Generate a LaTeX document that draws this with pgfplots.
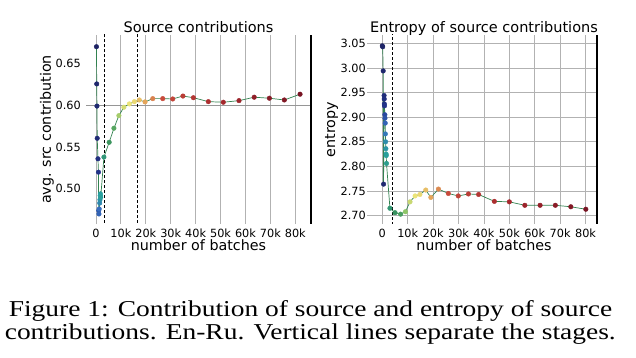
\documentclass[border=0pt]{standalone}
\usepackage{fontspec}
\setmainfont{DejaVu Sans}
\newfontfamily\capfont{Liberation Serif}
\usepackage{pgfplots}
\usepackage{pgfplotstable}
\pgfplotsset{compat=1.18}

\definecolor{gridgray}{RGB}{178,178,178}
\definecolor{refgray}{RGB}{150,150,150}
\definecolor{linegreen}{RGB}{50,130,80}

\pgfplotstableread{
x y c
200 0.670 0.00
300 0.6255 0.02
400 0.599 0.03
500 0.5605 0.04
800 0.536 0.06
1000 0.520 0.08
1100 0.474 0.16
1200 0.470 0.18
1300 0.476 0.20
1500 0.483 0.25
1600 0.487 0.27
1700 0.492 0.29
1800 0.494 0.30
1900 0.490 0.31
3200 0.538 0.36
5300 0.5557 0.41
7200 0.5725 0.45
9200 0.5876 0.54
11200 0.5976 0.58
13400 0.6016 0.60
15400 0.6043 0.62
17400 0.6063 0.66
19700 0.6040 0.70
22800 0.6079 0.74
26800 0.6079 0.80
30800 0.6075 0.82
34900 0.6110 0.84
39100 0.6090 0.86
45100 0.6043 0.88
51100 0.6036 0.90
57400 0.6055 0.92
63500 0.6096 0.95
69600 0.6084 0.97
75600 0.6063 0.98
81900 0.6132 1.00
}\srcdata

\pgfplotstableread{
x y c
0 3.045 0.00
150 3.043 0.01
350 2.994 0.02
500 2.764 0.03
700 2.944 0.05
750 2.937 0.06
800 2.927 0.07
850 2.923 0.08
1000 2.905 0.13
1050 2.898 0.15
1150 2.888 0.18
1200 2.866 0.22
1300 2.850 0.26
1400 2.836 0.28
1500 2.825 0.30
1550 2.822 0.31
1650 2.806 0.33
3000 2.715 0.37
5000 2.706 0.40
7200 2.703 0.43
9100 2.708 0.52
10900 2.728 0.57
12900 2.740 0.60
14800 2.743 0.62
17100 2.752 0.66
19100 2.737 0.70
22100 2.754 0.73
26000 2.745 0.80
29900 2.740 0.82
33900 2.744 0.84
37900 2.743 0.86
44100 2.729 0.88
50000 2.728 0.90
56100 2.721 0.92
62100 2.721 0.94
68100 2.721 0.96
74200 2.718 0.98
80100 2.713 1.00
}\entdata

\pgfplotsset{
 colormap={stagemap}{rgb255=(30,35,100) rgb255=(35,55,145) rgb255=(55,110,190) rgb255=(40,160,160) rgb255=(55,145,95) rgb255=(120,190,100) rgb255=(235,228,120) rgb255=(228,165,90) rgb255=(200,75,60) rgb255=(165,40,45) rgb255=(120,20,35)},
 common/.style={
  scale only axis, anchor=south west, height=189pt,
  axis line style={draw=none}, major tick length=0pt,
  grid style={gridgray, line width=0.8pt},
  colormap name=stagemap, point meta min=0, point meta max=1,
  xtick={0,10000,20000,30000,40000,50000,60000,70000,80000},
  xticklabels={0,10k,20k,30k,40k,50k,60k,70k,80k},
  scaled x ticks=false, scaled y ticks=false,
  tick label style={font=\fontsize{11.3}{13}\selectfont},
  /pgf/number format/assume math mode=true,
  label style={font=\fontsize{14.3}{16}\selectfont},
  title style={at={(0.5,1)}, anchor=base, yshift=-3.7pt, font=\fontsize{14.5}{16}\selectfont},
  xlabel style={at={(0.5,0)}, anchor=base, yshift=-26.7pt},
  xticklabel style={anchor=base, yshift=-13.7pt},
  yticklabel style={/pgf/number format/fixed, /pgf/number format/fixed zerofill,
    /pgf/number format/precision=2, anchor=east, inner sep=0pt, xshift=-5pt},
  xlabel={number of batches},
 },
 conn/.style={linegreen, line width=0.7pt, no marks},
 pts/.style={only marks, scatter, scatter src=explicit, mark=*, mark size=2.3pt,
   scatter/use mapped color={draw=mapped color, fill=mapped color}},
 stage/.style={black, line width=0.8pt, dash pattern=on 3pt off 2pt, no marks},
}

\begin{document}
\begin{tikzpicture}[x=1pt,y=1pt]
\path[use as bounding box] (0,0) rectangle (636,358);

\begin{axis}[common, name=ax1, at={(86pt,134pt)}, width=225pt,
  xmin=-4000, xmax=86300, ymin=0.458, ymax=0.684,
  xmajorgrids, ytick={0.50,0.55,0.60,0.65},
  title={Source contributions}, ylabel={avg. src contribution},
  ylabel style={at={(axis description cs:-0.1556,0.5)}, anchor=base}]
\addplot[refgray, line width=0.9pt, no marks] coordinates {(-4000,0.6) (86300,0.6)};
\addplot[stage] coordinates {(3500,0.40) (3500,0.70)};
\addplot[stage] coordinates {(16700,0.40) (16700,0.70)};
\addplot[conn] table[x=x,y=y] {\srcdata};
\addplot[pts] table[x=x,y=y,meta=c] {\srcdata};
\end{axis}
\draw[black, line width=1.1pt] (ax1.south east) -- (ax1.north east);

\begin{axis}[common, name=ax2, at={(371pt,134pt)}, width=226pt,
  xmin=-4450, xmax=84500, ymin=2.683, ymax=3.067,
  xmajorgrids, ymajorgrids,
  major tick length=4pt, tick align=outside, ytick pos=left,
  xtick style={draw=none}, ytick style={draw=gridgray, line width=0.8pt},
  xticklabel style={yshift=4pt}, yticklabel style={xshift=4pt},
  ytick={2.70,2.75,2.80,2.85,2.90,2.95,3.00,3.05},
  title={Entropy of source contributions}, ylabel={entropy},
  ylabel style={at={(axis description cs:-0.1593,0.5)}, anchor=base}]
\addplot[stage] coordinates {(3900,2.6) (3900,3.1)};
\addplot[conn] table[x=x,y=y] {\entdata};
\addplot[pts] table[x=x,y=y,meta=c] {\entdata};
\end{axis}
\draw[black, line width=1.1pt] (ax2.south east) -- (ax2.north east);

\node[anchor=base, inner sep=0pt, xscale=1.21, font=\capfont\fontsize{22.7}{24}\selectfont] at (310.5,41.3)
  {Figure 1: Contribution of source and entropy of source};
\node[anchor=base, inner sep=0pt, xscale=1.21, font=\capfont\fontsize{22.7}{24}\selectfont] at (310.3,18)
  {contributions. En-Ru. Vertical lines separate the stages.};
\end{tikzpicture}
\end{document}
